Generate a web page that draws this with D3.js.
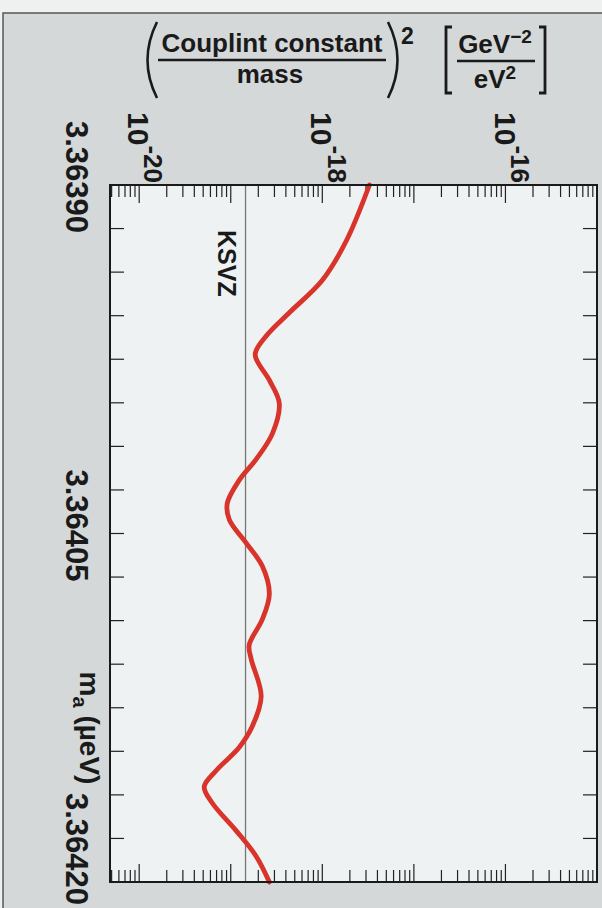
<!DOCTYPE html>
<html>
<head>
<meta charset="utf-8">
<script src="https://cdn.jsdelivr.net/npm/d3@7"></script>
<style>
  html, body { margin: 0; padding: 0; background: #eceeee; }
  svg { display: block; }
  text { font-family: "Liberation Sans", Arial, Helvetica, sans-serif; fill: #1a1a1a; }
</style>
</head>
<body>
<svg id="chart" width="602" height="908"></svg>
<script>
// Axion mass (µeV) along the scan
const massValues = [
  3.363900, 3.363924, 3.363941, 3.363955, 3.363965, 3.363973, 3.363984,
  3.363994, 3.364007, 3.364018, 3.364027, 3.364037, 3.364044, 3.364054,
  3.364064, 3.364076, 3.364087, 3.364098, 3.364104, 3.364120, 3.364133,
  3.364142, 3.364152, 3.364159, 3.364166, 3.364178, 3.364189, 3.364200
];
// Excluded (coupling constant / mass)^2 in GeV^-2 / eV^2
const couplingValues = [
  3.27e-18, 1.83e-18, 1.00e-18, 4.35e-19, 2.44e-19, 1.85e-19, 2.64e-19,
  3.39e-19, 2.85e-19, 1.90e-19, 1.24e-19, 9.16e-20, 9.64e-20, 1.47e-19,
  2.21e-19, 2.64e-19, 2.21e-19, 1.59e-19, 1.67e-19, 2.15e-19, 1.72e-19,
  1.24e-19, 6.95e-20, 5.13e-20, 6.28e-20, 1.15e-19, 1.90e-19, 2.64e-19
];
// KSVZ model reference level
const ksvzValue = 1.45e-19;
const ksvzLabel = "KSVZ";

// Axis tick labels
const massTickLabels = ["3.36390", "3.36405", "3.36420"];
const couplingTickExponents = [-20, -18, -16];
const massAxisLabel = ["m", "a", " (\u00b5eV)"];

const massDomain = [3.36390, 3.36420];
const couplingDomain = [4.8e-21, 1e-15];

const svg = d3.select("#chart");
const W = 602, H = 908;
const frame = { left: 110, right: 597, top: 185, bottom: 882 };

// page background with outer border
svg.append("rect").attr("x", 0).attr("y", 0).attr("width", W).attr("height", H).attr("fill", "#eff0f0");
svg.append("rect").attr("x", 3).attr("y", 13).attr("width", W + 10).attr("height", H + 10)
  .attr("fill", "#d5d8d8").attr("stroke", "#555").attr("stroke-width", 1.5);

// scales: mass runs downwards, coupling (log) runs to the right
const y = d3.scaleLinear().domain(massDomain).range([frame.top, frame.bottom]);
const x = d3.scaleLog().domain(couplingDomain).range([frame.left, frame.right]);

// plot area
svg.append("rect")
  .attr("x", frame.left).attr("y", frame.top)
  .attr("width", frame.right - frame.left).attr("height", frame.bottom - frame.top)
  .attr("fill", "#eef2f2");

// log ticks on top and bottom edges, pointing inward
const logTicks = x.ticks().filter(t => t >= couplingDomain[0] && t <= couplingDomain[1]);
const isMajor = t => Math.abs(Math.log10(t) - Math.round(Math.log10(t))) < 1e-6;
const tickG = svg.append("g").attr("stroke", "#222").attr("stroke-width", 1.2);
logTicks.forEach(t => {
  const len = isMajor(t) ? 18 : 12;
  const px = x(t);
  tickG.append("line").attr("x1", px).attr("x2", px).attr("y1", frame.top).attr("y2", frame.top + len);
  tickG.append("line").attr("x1", px).attr("x2", px).attr("y1", frame.bottom).attr("y2", frame.bottom - len);
});

// mass ticks on left and right edges, pointing inward
const massTicks = d3.range(17).map(i => massDomain[0] + i * (massDomain[1] - massDomain[0]) / 16);
massTicks.forEach(m => {
  const py = y(m);
  tickG.append("line").attr("x1", frame.left).attr("x2", frame.left + 14).attr("y1", py).attr("y2", py);
  tickG.append("line").attr("x1", frame.right).attr("x2", frame.right - 14).attr("y1", py).attr("y2", py);
});

// KSVZ reference line
svg.append("line")
  .attr("x1", x(ksvzValue)).attr("x2", x(ksvzValue))
  .attr("y1", frame.top).attr("y2", frame.bottom)
  .attr("stroke", "#777").attr("stroke-width", 1.3);
svg.append("text")
  .attr("transform", `translate(${x(ksvzValue) - 28},${frame.top + 45}) rotate(90)`)
  .attr("font-size", 25).attr("font-weight", "bold")
  .attr("text-anchor", "start")
  .text(ksvzLabel);

// exclusion curve
const pts = massValues.map((m, i) => [x(couplingValues[i]), y(m)]);
svg.append("path")
  .attr("d", d3.line().curve(d3.curveCatmullRom.alpha(0.5))(pts))
  .attr("fill", "none").attr("stroke", "#d8342b").attr("stroke-width", 4.8)
  .attr("stroke-linejoin", "round").attr("stroke-linecap", "round");

// frame
svg.append("rect")
  .attr("x", frame.left).attr("y", frame.top)
  .attr("width", frame.right - frame.left).attr("height", frame.bottom - frame.top)
  .attr("fill", "none").attr("stroke", "#1a1a1a").attr("stroke-width", 2);

// coupling tick labels (rotated, power-of-ten notation)
couplingTickExponents.forEach(e => {
  const t = svg.append("text")
    .attr("transform", `translate(${x(Math.pow(10, e))},${frame.top - 2}) rotate(90)`)
    .attr("text-anchor", "end").attr("font-weight", "bold").attr("font-size", 30)
    .attr("dy", "0.36em");
  t.append("tspan").text("10");
  t.append("tspan").attr("font-size", 26).attr("dy", "-0.62em").text("-" + Math.abs(e));
});

// mass tick labels (rotated), kept inside the figure at the lower edge
const massFont = 31;
const halfLen = 3.614 * massFont / 2;
massTickLabels.forEach(s => {
  const cy = Math.min(y(+s) - 8, H - 3 - halfLen);
  svg.append("text")
    .attr("transform", `translate(66,${cy}) rotate(90)`)
    .attr("text-anchor", "middle").attr("font-weight", "bold").attr("font-size", massFont)
    .text(s);
});

// mass axis title
{
  const t = svg.append("text")
    .attr("transform", `translate(80,728) rotate(90)`)
    .attr("text-anchor", "middle").attr("font-weight", "bold").attr("font-size", 28);
  t.append("tspan").text(massAxisLabel[0]);
  t.append("tspan").attr("font-size", 20).attr("dy", "0.35em").text(massAxisLabel[1]);
  t.append("tspan").attr("dy", "-0.25em").text(massAxisLabel[2]);
}

// coupling axis title: (coupling constant / mass)^2 [GeV^-2 / eV^2]
const title = svg.append("g");
title.append("text").attr("x", 272).attr("y", 52).attr("text-anchor", "middle")
  .attr("font-weight", "bold").attr("font-size", 26).text("Couplint constant");
title.append("line").attr("x1", 158).attr("x2", 386).attr("y1", 60).attr("y2", 60)
  .attr("stroke", "#1a1a1a").attr("stroke-width", 2.5);
title.append("text").attr("x", 270).attr("y", 83).attr("text-anchor", "middle")
  .attr("font-weight", "bold").attr("font-size", 26).text("mass");
title.append("path").attr("d", "M157,22 Q138,60 157,98").attr("fill", "none")
  .attr("stroke", "#1a1a1a").attr("stroke-width", 2.6);
title.append("path").attr("d", "M388,22 Q407,60 388,98").attr("fill", "none")
  .attr("stroke", "#1a1a1a").attr("stroke-width", 2.6);
title.append("text").attr("x", 401).attr("y", 44).attr("font-weight", "bold")
  .attr("font-size", 23).text("2");
title.append("path").attr("d", "M452,27 L446,27 L446,93 L452,93").attr("fill", "none")
  .attr("stroke", "#1a1a1a").attr("stroke-width", 2.8);
title.append("path").attr("d", "M539,27 L545,27 L545,93 L539,93").attr("fill", "none")
  .attr("stroke", "#1a1a1a").attr("stroke-width", 2.8);
{
  const g1 = title.append("text").attr("x", 495).attr("y", 53).attr("text-anchor", "middle")
    .attr("font-weight", "bold").attr("font-size", 26);
  g1.append("tspan").text("GeV");
  g1.append("tspan").attr("font-size", 19).attr("dy", "-0.55em").text("\u22122");
}
title.append("line").attr("x1", 457).attr("x2", 535).attr("y1", 61).attr("y2", 61)
  .attr("stroke", "#1a1a1a").attr("stroke-width", 2.5);
{
  const g2 = title.append("text").attr("x", 495).attr("y", 88).attr("text-anchor", "middle")
    .attr("font-weight", "bold").attr("font-size", 26);
  g2.append("tspan").text("eV");
  g2.append("tspan").attr("font-size", 19).attr("dy", "-0.45em").text("2");
}
</script>
</body>
</html>
